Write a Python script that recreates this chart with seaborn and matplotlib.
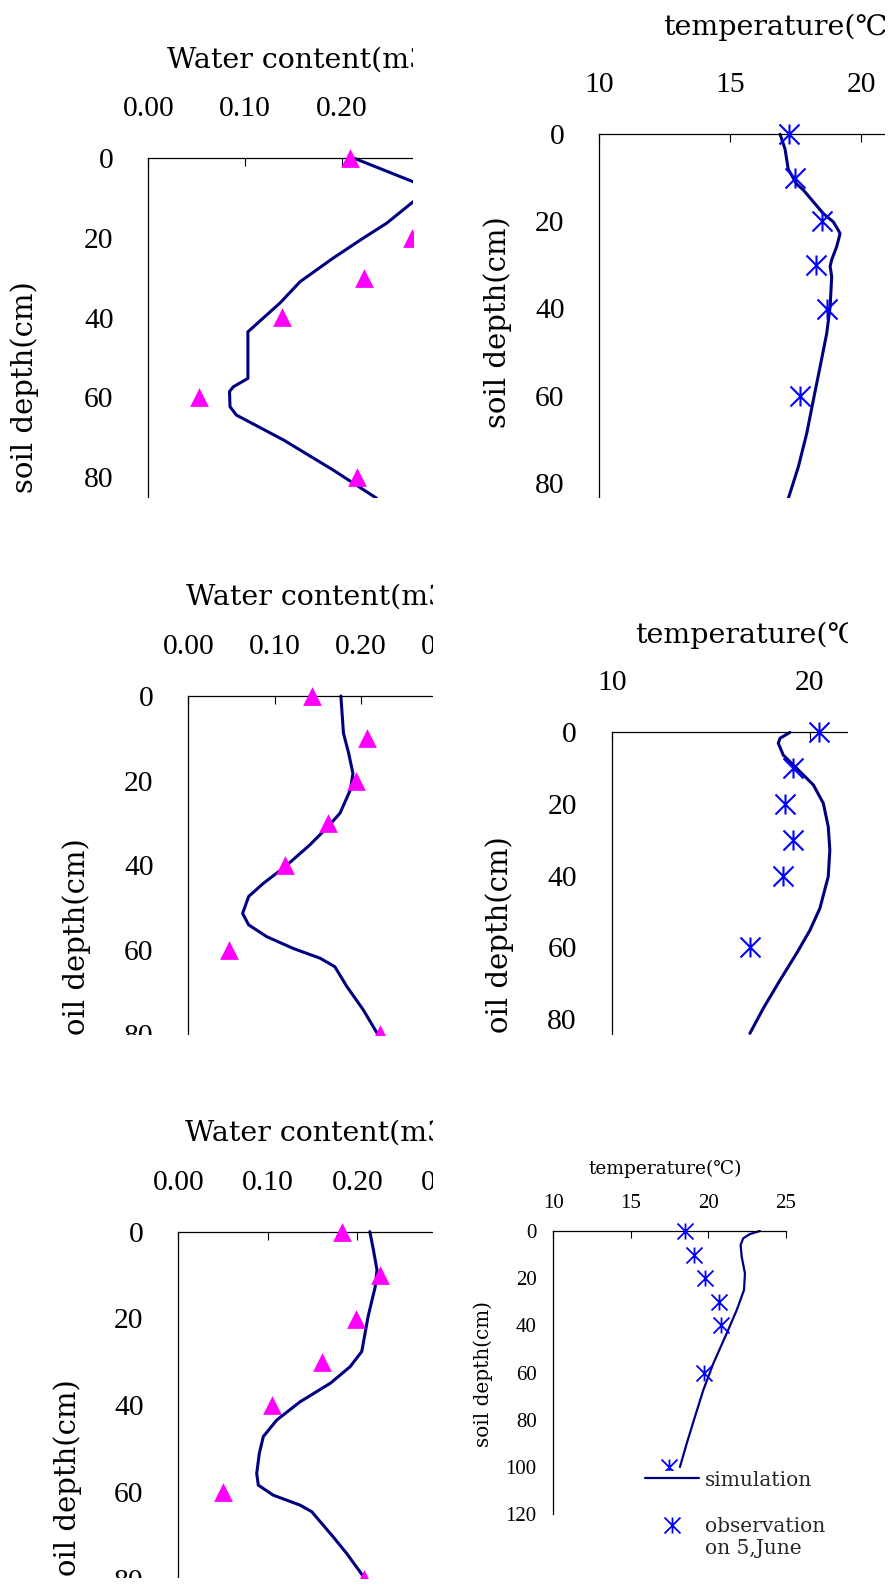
import matplotlib
matplotlib.use("Agg")
import matplotlib.pyplot as plt
import seaborn as sns
import pandas as pd
from matplotlib.path import Path
from matplotlib.transforms import Bbox, TransformedBbox
from matplotlib.lines import Line2D
from matplotlib.ticker import FormatStrFormatter

# ---------------- data ----------------
# panel a : water content, first date
obs_depth_a = [0, 20, 30, 40, 60, 80]
obs_water_a = [0.209, 0.273, 0.223, 0.138, 0.052, 0.216]
sim_depth_a = [0, 5.9, 8.0, 10.9, 16.3, 20.1, 25.1, 31.0, 36.4, 43.6, 55.3, 57.4,
               58.6, 62.4, 64.5, 70.8, 78.3, 85.4]
sim_water_a = [0.213, 0.274, 0.29, 0.274, 0.2465, 0.222, 0.191, 0.157, 0.136, 0.103,
               0.103, 0.088, 0.084, 0.0845, 0.091, 0.140, 0.191, 0.236]

# panel b : temperature, first date
obs_depth_b = [0, 10, 20, 30, 40, 60]
obs_temp_b = [17.25, 17.47, 18.49, 18.27, 18.68, 17.66]
sim_depth_b = [0, 3.4, 8, 11.4, 12.8, 18.2, 20.1, 22, 22.8, 25.8, 28.8, 30.3, 32.7,
               39.6, 45.7, 53.3, 61.0, 68.6, 76.3, 83.7]
sim_temp_b = [16.9, 17.09, 17.21, 17.53, 17.79, 18.55, 18.93, 19.12, 19.19, 19.06,
              18.87, 18.81, 18.87, 18.81, 18.68, 18.43, 18.17, 17.92, 17.6, 17.21]

# panel c : water content, second date
obs_depth_c = [0, 10, 20, 30, 40, 60, 80]
obs_water_c = [0.144, 0.207, 0.194, 0.162, 0.112, 0.047, 0.222]
sim_depth_c = [0, 8.8, 13.5, 18.3, 22.2, 27.7, 30.9, 35.2, 40.4, 44.3, 47.4, 51.4,
               54.1, 56.9, 59.7, 62.0, 64.0, 68.7, 74.2, 79.7]
sim_water_c = [0.177, 0.180, 0.186, 0.191, 0.188, 0.176, 0.162, 0.141, 0.112, 0.087,
               0.070, 0.063, 0.070, 0.091, 0.122, 0.153, 0.170, 0.184, 0.203, 0.219]

# panel d : temperature, second date
obs_depth_d = [0, 10, 20, 30, 40, 60]
obs_temp_d = [20.45, 19.16, 18.74, 19.16, 18.65, 16.97]
sim_depth_d = [0.2, 1.8, 3.2, 6.5, 10.2, 14.8, 19.9, 26.4, 32.9, 40.3, 49.1, 55.2,
               61.6, 69.1, 76.9, 83.9]
sim_temp_d = [18.99, 18.49, 18.40, 18.65, 19.33, 20.17, 20.67, 20.92, 21.0, 20.92,
              20.5, 20.0, 19.33, 18.49, 17.65, 16.97]

# panel e : water content, third date
obs_depth_e = [0, 10, 20, 30, 40, 60, 80]
obs_water_e = [0.183, 0.225, 0.198, 0.161, 0.105, 0.050, 0.208]
sim_depth_e = [0, 4.2, 8.8, 12.7, 19.6, 27.6, 31.1, 34.9, 39.2, 43.4, 47.2, 51.1,
               55.7, 58.4, 60.7, 63, 64.5, 70.3, 74.1, 79.5]
sim_water_e = [0.214, 0.218, 0.222, 0.220, 0.212, 0.205, 0.192, 0.170, 0.136, 0.110,
               0.095, 0.0905, 0.0876, 0.0894, 0.106, 0.136, 0.149, 0.173, 0.188, 0.207]

# panel f : temperature, 5 June
obs_depth_f = [0, 10, 20, 30, 40, 60, 100]
obs_temp_f = [18.51, 19.11, 19.80, 20.72, 20.81, 19.74, 17.49]
sim_depth_f = [0, 1.3, 3.1, 5.9, 10.9, 17.9, 25, 33.5, 43.4, 56.1, 67.4, 78.7, 90, 100]
sim_temp_f = [23.35, 22.7, 22.27, 22.1, 22.17, 22.38, 22.32, 21.85, 21.2, 20.34,
              19.69, 19.15, 18.62, 18.18]

depth_ticks = [0, 20, 40, 60, 80, 100, 120]
water_ticks = [0.0, 0.1, 0.2, 0.3, 0.4]
temp_ticks_b = [10, 15, 20, 25]
temp_ticks_d = [10, 20, 30]
temp_ticks_f = [10, 15, 20, 25]

water_title = "Water content(m3/m3)"
temp_title = "temperature(℃)"
depth_label = "soil depth(cm)"
legend_labels = ["simulation", "observation", "on 5,June"]

# ---------------- style ----------------
sns.set_style("white")
plt.rcParams["font.family"] = ["Liberation Serif", "DejaVu Sans"]
LABEL_FONT = ["DejaVu Serif", "DejaVu Sans", "Noto Sans CJK SC"]
NAVY, MAGENTA, BLUE = "#000080", "#FF00FF", "#0000FF"
STAR = Path([(-1, -1), (1, 1), (-1, 1), (1, -1), (0, -1), (0, 1)],
            [Path.MOVETO, Path.LINETO] * 3)

W, H = 889, 1585
fig = plt.figure(figsize=(W / 100, H / 100), dpi=100)
fig.patch.set_facecolor("white")

panels = [
    dict(kind="w", obs=(obs_depth_a, obs_water_a), sim=(sim_depth_a, sim_water_a),
         left=148.3, top=158.3, xs=967, ys=3.98, xlim=(0, 0.4), xticks=water_ticks,
         clip=(0, 0, 413, 498), title=(167, 60), ylab=(25, 387), small=False),
    dict(kind="t", obs=(obs_depth_b, obs_temp_b), sim=(sim_depth_b, sim_temp_b),
         left=599.3, top=134.3, xs=26.2, ys=4.355, xlim=(10, 25), xticks=temp_ticks_b,
         clip=(470, 0, 885, 498), title=(663, 27), ylab=(498, 322.5), small=False),
    dict(kind="w", obs=(obs_depth_c, obs_water_c), sim=(sim_depth_c, sim_water_c),
         left=188.3, top=696, xs=862, ys=4.23, xlim=(0, 0.4), xticks=water_ticks,
         clip=(0, 545, 433, 1035), title=(185.7, 597), ylab=(77, 944), small=False),
    dict(kind="t", obs=(obs_depth_d, obs_temp_d), sim=(sim_depth_d, sim_temp_d),
         left=611.7, top=731.7, xs=19.83, ys=3.595, xlim=(10, 30), xticks=temp_ticks_d,
         clip=(470, 545, 848, 1035), title=(635, 635), ylab=(500, 942), small=False),
    dict(kind="w", obs=(obs_depth_e, obs_water_e), sim=(sim_depth_e, sim_water_e),
         left=178.3, top=1231.7, xs=895, ys=4.34, xlim=(0, 0.4), xticks=water_ticks,
         clip=(0, 1075, 433, 1578), title=(185, 1133), ylab=(68, 1485), small=False),
    dict(kind="t", obs=(obs_depth_f, obs_temp_f), sim=(sim_depth_f, sim_temp_f),
         left=553.3, top=1231, xs=15.48, ys=2.36, xlim=(10, 25), xticks=temp_ticks_f,
         clip=(450, 1075, 889, 1585), title=(588, 1169), ylab=(483, 1374), small=True),
]

registry = []
for p in panels:
    x0, x1 = p["xlim"]
    ymax = 120
    wpx = (x1 - x0) * p["xs"]
    hpx = ymax * p["ys"]
    ax = fig.add_axes([p["left"] / W, 1 - (p["top"] + hpx) / H, wpx / W, hpx / H])
    ax.set_facecolor("none")
    small = p["small"]

    sim_d, sim_v = p["sim"]
    obs_d, obs_v = p["obs"]
    df_sim = pd.DataFrame({"v": sim_v, "d": sim_d})
    df_obs = pd.DataFrame({"v": obs_v, "d": obs_d})

    sns.lineplot(data=df_sim, x="v", y="d", sort=False, estimator=None,
                 color=NAVY, linewidth=1.6 if small else 2.2, ax=ax, zorder=2)
    if p["kind"] == "w":
        sns.scatterplot(data=df_obs, x="v", y="d", marker="^", s=182,
                        color=MAGENTA, edgecolor=MAGENTA, linewidth=0,
                        clip_on=False, ax=ax, zorder=3)
    else:
        ms = 11.5 if small else 14.4
        sns.scatterplot(data=df_obs, x="v", y="d", marker=STAR, s=ms ** 2,
                        color=BLUE, edgecolor=BLUE, linewidth=1.3 if small else 1.5,
                        clip_on=False, ax=ax, zorder=3)

    ax.set_xlim(x0, x1)
    ax.set_ylim(ymax, 0)
    ax.set_xticks(p["xticks"])
    ax.set_yticks(depth_ticks)
    ax.xaxis.tick_top()
    if p["kind"] == "w":
        ax.xaxis.set_major_formatter(FormatStrFormatter("%.2f"))
    else:
        ax.xaxis.set_major_formatter(FormatStrFormatter("%d"))
    ax.set_xlabel("")
    ax.set_ylabel("")
    ax.grid(False)
    for s in ["right", "bottom"]:
        ax.spines[s].set_visible(False)
    for s in ["left", "top"]:
        ax.spines[s].set_color("black")
        ax.spines[s].set_linewidth(0.9)
    if small:
        ax.tick_params(axis="x", direction="in", length=5, width=0.8, pad=12.8,
                       labelsize=15, colors="black")
        ax.tick_params(axis="y", direction="in", length=5, width=0.8, pad=12,
                       labelsize=15, colors="black")
    else:
        ax.tick_params(axis="x", direction="in", length=5.5, width=0.8, pad=26,
                       labelsize=21.3, colors="black")
        ax.tick_params(axis="y", direction="in", length=5.5, width=0.8, pad=25,
                       labelsize=21.3, colors="black")

    title = water_title if p["kind"] == "w" else temp_title
    tx, ty = p["title"]
    t1 = fig.text(tx / W, 1 - ty / H, title, ha="left", va="center",
                  fontsize=13.4 if small else 20.5, family=LABEL_FONT, color="black")
    lx, ly = p["ylab"]
    t2 = fig.text(lx / W, 1 - ly / H, depth_label, rotation=90, ha="center",
                  va="center", fontsize=14.4 if small else 21, family=LABEL_FONT,
                  color="black")

    if small:
        prop = dict(family=LABEL_FONT, size=14.5)
        h_sim = Line2D([], [], color=NAVY, lw=1.6)
        leg1 = ax.legend([h_sim], [legend_labels[0]], loc="center left",
                         bbox_to_anchor=(645 / W, 1 - 1480 / H),
                         bbox_transform=fig.transFigure, frameon=True, framealpha=1,
                         borderpad=0, borderaxespad=0, handlelength=2.69,
                         handletextpad=0.3, prop=prop)
        leg1.get_frame().set_facecolor("white")
        leg1.get_frame().set_edgecolor("none")
        ax.add_artist(leg1)
        h_obs = Line2D([], [], ls="none", marker=STAR, ms=11.5, mec=BLUE,
                       mfc="none", mew=1.3)
        h_blank = Line2D([], [], ls="none")
        leg2 = ax.legend([h_obs, h_blank], legend_labels[1:], loc="upper left",
                         bbox_to_anchor=(645 / W, 1 - 1517 / H),
                         bbox_transform=fig.transFigure, frameon=True, framealpha=1,
                         borderpad=0, borderaxespad=0, handlelength=2.69,
                         handletextpad=0.3, labelspacing=0.17, prop=prop)
        leg2.get_frame().set_facecolor("white")
        leg2.get_frame().set_edgecolor("none")

    registry.append((ax, [t1, t2], p["clip"]))

fig.canvas.draw()
for ax, texts, (cx0, cy0, cx1, cy1) in registry:
    bb = TransformedBbox(Bbox.from_extents(cx0 / W, 1 - cy1 / H, cx1 / W, 1 - cy0 / H),
                         fig.transFigure)
    for art in ax.findobj(include_self=False):
        art.set_clip_on(True)
        art.set_clip_box(bb)
    for t in texts:
        t.set_clip_on(True)
        t.set_clip_box(bb)

fig.savefig("out.png", dpi=100, facecolor="white")
